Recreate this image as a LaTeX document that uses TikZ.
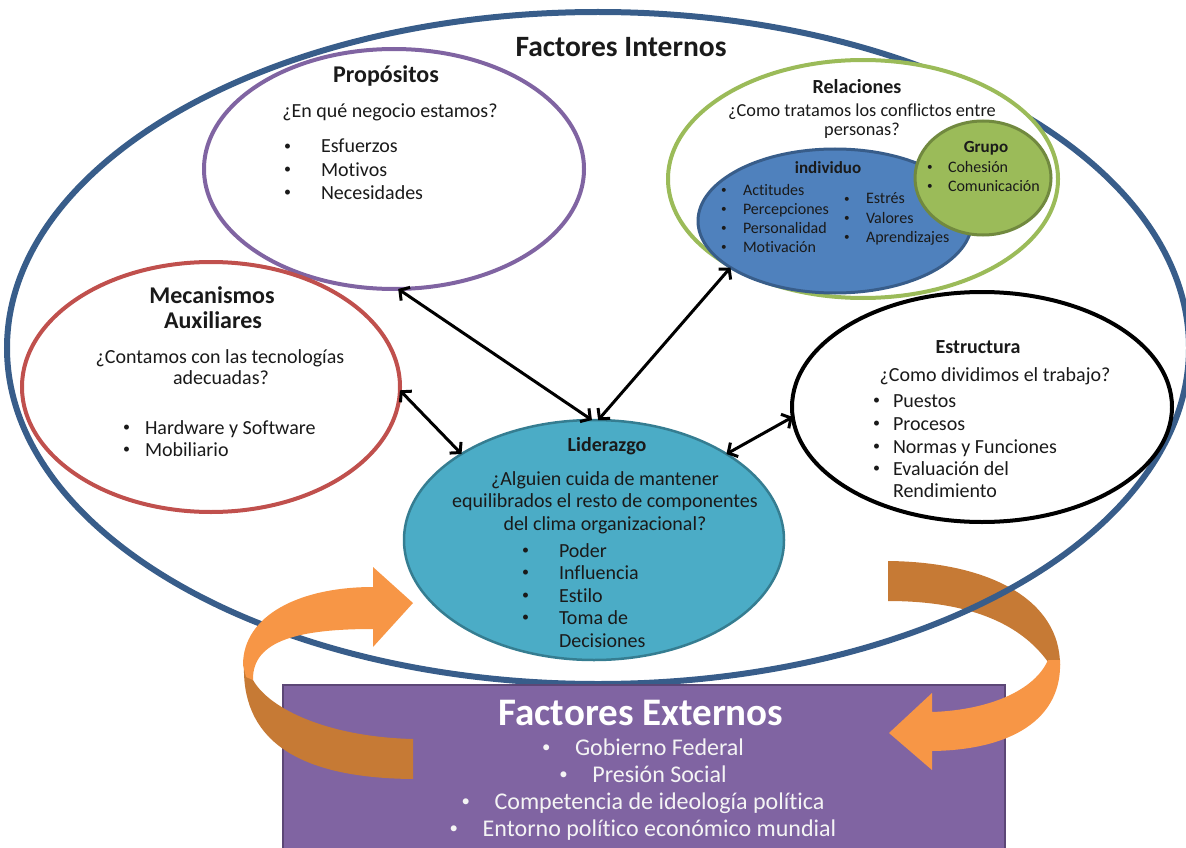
\documentclass[tikz,border=0pt]{standalone}
\usepackage{fontspec}
\setmainfont{Carlito}[Ligatures=NoCommon]
\usetikzlibrary{shapes.geometric,arrows.meta}
\definecolor{blueline}{HTML}{385D8A}
\definecolor{purpline}{HTML}{8064A2}
\definecolor{greenline}{HTML}{9BBB59}
\definecolor{greendark}{HTML}{71893F}
\definecolor{redline}{HTML}{C0504D}
\definecolor{indfill}{HTML}{4F81BD}
\definecolor{lidfill}{HTML}{4BACC6}
\definecolor{liddark}{HTML}{357D91}
\definecolor{boxfill}{HTML}{8064A2}
\definecolor{boxdark}{HTML}{5C4776}
\definecolor{orlight}{HTML}{F79646}
\definecolor{ordark}{HTML}{C67A35}
\definecolor{txtdark}{HTML}{1A1A1A}
\definecolor{boxtxt}{HTML}{F4F4F4}
\newcommand{\fsz}[2]{\fontsize{#1}{#2}\selectfont}
\newcommand{\bl}[2]{\makebox[#1][l]{\raisebox{0.12em}{\scalebox{0.7}{\textbullet}}}#2}
\begin{document}
\begin{tikzpicture}[x=1pt,y=-1pt,
  oval/.style={ellipse, draw, inner sep=0pt, outer sep=0pt},
  lbl/.style={inner sep=0pt, outer sep=0pt, anchor=base, text=txtdark},
  itm/.style={inner sep=0pt, outer sep=0pt, anchor=base west, text=txtdark},
  link/.style={draw=black, line width=3pt, {Straight Barb[length=7pt,width=16pt]}-{Straight Barb[length=7pt,width=16pt]}},
  boxline/.style={inner sep=0pt, outer sep=0pt, anchor=base, text=boxtxt, font=\fsz{24}{27}},
]
\useasboundingbox (0,0) rectangle (1186,848);

% right arrow, back (dark) part
\fill[ordark] (888,561) .. controls (990,562) and (1060,600) .. (1060,665)
  -- (1048,662) .. controls (1025,630) and (980,601) .. (888,601) -- cycle;

% outer ellipse: Factores Internos
\node[oval, draw=blueline, line width=6pt, minimum width=1182pt, minimum height=672pt] (fi) at (598,348) {};

% inner ellipses
\node[oval, draw=purpline, fill=white, line width=4pt, minimum width=380pt, minimum height=240pt] (prop) at (394,169) {};
\node[oval, draw=greenline, fill=white, line width=4pt, minimum width=390pt, minimum height=238pt] (rel) at (863,179) {};
\node[oval, draw=blueline, fill=indfill, line width=3pt, minimum width=274pt, minimum height=144pt] (ind) at (835,221) {};
\node[oval, draw=greendark, fill=greenline, line width=3pt, minimum width=136pt, minimum height=114pt] (grp) at (983,178) {};
\node[oval, draw=redline, fill=white, line width=4pt, minimum width=378pt, minimum height=250pt] (mec) at (211,387) {};
\node[oval, draw=black, fill=white, line width=4pt, minimum width=380pt, minimum height=230pt] (est) at (982,407) {};
\node[oval, draw=liddark, fill=lidfill, line width=2.5pt, minimum width=380pt, minimum height=240pt] (lid) at (594,540) {};

% connectors
\draw[link] (prop.-88) -- (lid.91);
\draw[link] (lid.88) -- (ind.204);
\draw[link] (mec.-1) -- (lid.147);
\draw[link] (lid.33) -- (est.183);

% external box
\node[draw=boxdark, fill=boxfill, line width=2pt, inner sep=0pt, outer sep=0pt, anchor=north west,
      minimum width=722pt, minimum height=175pt] (ext) at (283,685) {};

% left arrow
\fill[ordark] (244,665) .. controls (242,735) and (290,778) .. (413,779)
  -- (413,739) .. controls (330,737) and (270,710) .. (253,680) -- cycle;
\fill[orlight] (413,603) -- (373,567) -- (373,587)
  .. controls (300,587) and (243,615) .. (243,665) -- (246,677) -- (253,680)
  .. controls (252,640) and (300,629) .. (373,629) -- (373,647) -- cycle;

% right arrow, front (light) part
\fill[orlight] (1060,660) .. controls (1063,720) and (1010,750) .. (932,751)
  -- (932,770) -- (889,733) -- (932,693) -- (932,712)
  .. controls (990,710) and (1035,690) .. (1048,660) -- cycle;

% texts
\node[lbl, font=\bfseries\fsz{29.5}{32}] (tFI) at (621,57) {Factores Internos};

\node[lbl, font=\bfseries\fsz{24}{28}] (tP) at (386,83) {Propósitos};
\node[lbl, font=\fsz{20}{24}] (tPq) at (390,118) {¿En qué negocio estamos?};
\node[itm, font=\fsz{20}{24}] (tP1) at (284,153) {\bl{37pt}{Esfuerzos}};
\node[itm, font=\fsz{20}{24}] (tP2) at (284,176) {\bl{37pt}{Motivos}};
\node[itm, font=\fsz{20}{24}] (tP3) at (284,199) {\bl{37pt}{Necesidades}};

\node[lbl, font=\bfseries\fsz{20}{24}] (tR) at (857,94) {Relaciones};
\node[lbl, font=\fsz{18.3}{20}] (tRq1) at (862,117) {¿Como tratamos los conflictos entre};
\node[lbl, font=\fsz{18.3}{20}] (tRq2) at (862,136) {personas?};
\node[lbl, font=\bfseries\fsz{17}{19}] (tI) at (828,173) {individuo};
\node[itm, font=\fsz{16}{19}] (tI1) at (721,195) {\bl{22pt}{Actitudes}};
\node[itm, font=\fsz{16}{19}] (tI2) at (721,214) {\bl{22pt}{Percepciones}};
\node[itm, font=\fsz{16}{19}] (tI3) at (721,233) {\bl{22pt}{Personalidad}};
\node[itm, font=\fsz{16}{19}] (tI4) at (721,252) {\bl{22pt}{Motivación}};
\node[itm, font=\fsz{16}{19}] (tI5) at (844,204) {\bl{22pt}{Estrés}};
\node[itm, font=\fsz{16}{19}] (tI6) at (844,223) {\bl{22pt}{Valores}};
\node[itm, font=\fsz{16}{19}] (tI7) at (844,242) {\bl{22pt}{Aprendizajes}};
\node[lbl, font=\bfseries\fsz{17}{19}] (tG) at (986,153) {Grupo};
\node[itm, font=\fsz{16}{19}] (tG1) at (927,172) {\bl{21pt}{Cohesión}};
\node[itm, font=\fsz{16}{19}] (tG2) at (927,191) {\bl{21pt}{Comunicación}};

\node[lbl, font=\bfseries\fsz{24}{28}] (tM1) at (212,303) {Mecanismos};
\node[lbl, font=\bfseries\fsz{24}{28}] (tM2) at (213,328) {Auxiliares};
\node[lbl, font=\fsz{20}{24}] (tMq1) at (220,363) {¿Contamos con las tecnologías};
\node[lbl, font=\fsz{20}{24}] (tMq2) at (221,384) {adecuadas?};
\node[itm, font=\fsz{20}{24}] (tM3) at (123,434) {\bl{22pt}{Hardware y Software}};
\node[itm, font=\fsz{20}{24}] (tM4) at (123,456) {\bl{22pt}{Mobiliario}};

\node[lbl, font=\bfseries\fsz{20}{24}] (tE) at (978,353) {Estructura};
\node[lbl, font=\fsz{20}{24}] (tEq) at (995,381) {¿Como dividimos el trabajo?};
\node[itm, font=\fsz{20}{24}] (tE1) at (873,407) {\bl{20pt}{Puestos}};
\node[itm, font=\fsz{20}{24}] (tE2) at (873,430) {\bl{20pt}{Procesos}};
\node[itm, font=\fsz{20}{24}] (tE3) at (873,453) {\bl{20pt}{Normas y Funciones}};
\node[itm, font=\fsz{20}{24}] (tE4) at (873,475) {\bl{20pt}{Evaluación del}};
\node[itm, font=\fsz{20}{24}] (tE5) at (893,497) {Rendimiento};

\node[lbl, font=\bfseries\fsz{20}{24}] (tL) at (607,451) {Liderazgo};
\node[lbl, font=\fsz{20}{24}] (tLq1) at (605,485) {¿Alguien cuida de mantener};
\node[lbl, font=\fsz{20}{24}] (tLq2) at (605,507) {equilibrados el resto de componentes};
\node[lbl, font=\fsz{20}{24}] (tLq3) at (605,530) {del clima organizacional?};
\node[itm, font=\fsz{20}{24}] (tL1) at (522,557) {\bl{37pt}{Poder}};
\node[itm, font=\fsz{20}{24}] (tL2) at (522,579) {\bl{37pt}{Influencia}};
\node[itm, font=\fsz{20}{24}] (tL3) at (522,602) {\bl{37pt}{Estilo}};
\node[itm, font=\fsz{20}{24}] (tL4) at (522,624) {\bl{37pt}{Toma de}};
\node[itm, font=\fsz{20}{24}] (tL5) at (559,647) {Decisiones};

\node[lbl, text=white, font=\bfseries\fsz{39}{42}] (tX) at (641,725) {Factores Externos};
\node[boxline] (tX1) at (643,755) {\bl{33pt}{Gobierno Federal}};
\node[boxline] (tX2) at (643,782) {\bl{33pt}{Presión Social}};
\node[boxline] (tX3) at (643,809) {\bl{33pt}{Competencia de ideología política}};
\node[boxline] (tX4) at (643,836) {\bl{33pt}{Entorno político económico mundial}};
\end{tikzpicture}
\end{document}
